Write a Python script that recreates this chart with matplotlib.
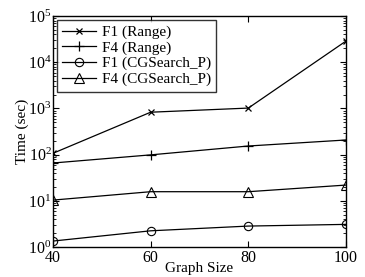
import matplotlib
matplotlib.use("Agg")
import matplotlib.pyplot as plt
from matplotlib.ticker import LogLocator

plt.rcParams['font.family'] = ['Liberation Serif', 'DejaVu Serif']
plt.rcParams['mathtext.fontset'] = 'custom'
plt.rcParams['mathtext.rm'] = 'Liberation Serif'
plt.rcParams['mathtext.it'] = 'Liberation Serif:italic'

graph_size = [40, 60, 80, 100]
f1_range = [107, 830, 1020, 28800]
f4_range = [66, 99, 154, 208]
f1_cg = [1.35, 2.25, 2.85, 3.1]
f4_cg = [10.4, 15.8, 15.8, 22]
labels = ["F1 (Range)", "F4 (Range)", "F1 (CGSearch_P)", "F4 (CGSearch_P)"]
x_ticks = [40, 60, 80, 100]

fig = plt.figure(figsize=(3.65, 2.77), dpi=100)
ax = fig.add_axes([0.145, 0.108, 0.803, 0.834])

lw = 0.9
ax.plot(graph_size, f1_range, color='black', lw=lw, marker='x', ms=5, mew=0.9, label=labels[0])
ax.plot(graph_size, f4_range, color='black', lw=lw, marker='+', ms=7, mew=0.9, label=labels[1])
ax.plot(graph_size, f1_cg, color='black', lw=lw, marker='o', ms=6, mfc='none', mew=0.8, label=labels[2])
ax.plot(graph_size, f4_cg, color='black', lw=lw, marker='^', ms=7, mfc='none', mew=0.8, label=labels[3])

ax.set_yscale('log')
ax.set_ylim(1, 1e5)
ax.set_xlim(40, 100)
ax.set_xticks(x_ticks)
ax.yaxis.set_major_locator(LogLocator(base=10, numticks=10))
ax.yaxis.set_minor_locator(LogLocator(base=10, subs=range(2, 10), numticks=20))

ax.tick_params(which='both', direction='in', top=True, right=True, labelsize=11.5)
ax.tick_params(axis='x', pad=2)
ax.tick_params(axis='y', pad=1)
ax.tick_params(which='major', length=4, width=0.8)
ax.tick_params(which='minor', length=2, width=0.6)
for s in ax.spines.values():
    s.set_linewidth(1.0)

ax.set_xlabel('Graph Size', fontsize=11, labelpad=-3)
ax.set_ylabel('Time (sec)', fontsize=11, labelpad=-1)

leg = ax.legend(loc='upper left', fontsize=11, frameon=True, fancybox=False,
                borderpad=0.35, labelspacing=0.12, handlelength=2.2, handletextpad=0.4,
                borderaxespad=0.25)
leg.get_frame().set_edgecolor('black')
leg.get_frame().set_linewidth(1.0)

fig.savefig('out.png', dpi=100)
